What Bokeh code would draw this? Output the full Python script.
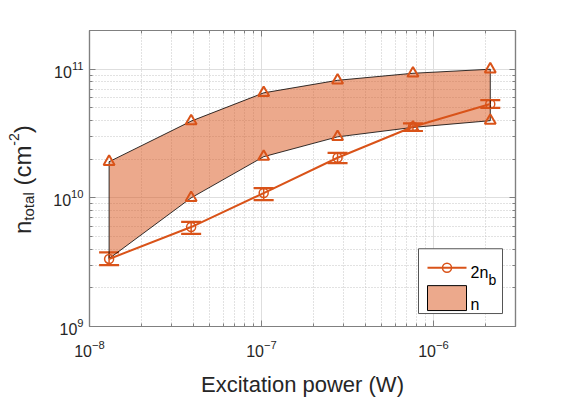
import math
from bokeh.plotting import figure
from bokeh.models import (LogAxis, FixedTicker, Whisker, TeeHead, ColumnDataSource, Range1d, Div)
from bokeh.layouts import row
from bokeh.core.properties import value
from bokeh.embed import file_html
from bokeh.resources import INLINE

# ---- data ----
power = [1.3e-8, 3.9e-8, 1.03e-7, 2.77e-7, 7.6e-7, 2.14e-6]
n_upper = [1.91e10, 3.95e10, 6.55e10, 8.2e10, 9.3e10, 1.0e11]
n_lower = [3.37e9, 1.0e10, 2.09e10, 2.98e10, 3.53e10, 3.98e10]
nb2 = [3.35e9, 5.93e9, 1.09e10, 2.05e10, 3.57e10, 5.36e10]
nb2_hi = [3.77e9, 6.5e9, 1.19e10, 2.24e10, 3.79e10, 5.75e10]
nb2_lo = [3.0e9, 5.24e9, 9.6e9, 1.86e10, 3.31e10, 5.01e10]
x_ticks = [1e-8, 1e-7, 1e-6]
y_ticks = [1e9, 1e10, 1e11]
x_lim = (1e-8, 3e-6)
y_lim = (1e9, 2e11)

ORANGE = "#D95319"
AXC = "#808080"
TXT = "#262626"
FONT = "Liberation Sans"

DIV_W, DIV_ML = 41, 4
FRAME_W, FRAME_H = 426, 297
BL, BR, BT, BB = 44, 54, 30, 72

x_minor = [m * 10.0 ** e for e in (-8, -7, -6) for m in range(2, 10) if m * 10.0 ** e <= x_lim[1]]
y_minor = [m * 10.0 ** e for e in (9, 10, 11) for m in range(2, 10) if m * 10.0 ** e <= y_lim[1]]

p = figure(width=BL + FRAME_W + BR, height=BT + FRAME_H + BB, x_axis_type="log", y_axis_type="log",
           x_range=Range1d(*x_lim), y_range=Range1d(*y_lim),
           output_backend="svg", toolbar_location=None,
           min_border_left=BL, min_border_right=BR, min_border_top=BT, min_border_bottom=BB)
p.background_fill_color = "white"
p.border_fill_color = "white"
p.outline_line_color = AXC
p.outline_line_width = 1.2

xt = FixedTicker(ticks=x_ticks, minor_ticks=x_minor)
yt = FixedTicker(ticks=y_ticks, minor_ticks=y_minor)

def style_axis(ax):
    ax.axis_line_color = AXC
    ax.axis_line_width = 1.2
    ax.major_tick_line_color = AXC
    ax.minor_tick_line_color = AXC
    ax.major_tick_in = 6
    ax.major_tick_out = 0
    ax.minor_tick_in = 3
    ax.minor_tick_out = 0
    ax.major_label_text_font = FONT
    ax.major_label_text_font_size = "16px"
    ax.major_label_text_color = TXT

p.xaxis.ticker = xt
p.yaxis.ticker = yt
style_axis(p.xaxis[0])
style_axis(p.yaxis[0])
p.xaxis.major_label_standoff = 13
p.yaxis.major_label_standoff = 6
p.xaxis.axis_label = "Excitation power (W)"
p.xaxis.axis_label_text_font = FONT
p.xaxis.axis_label_text_font_size = "22px"
p.xaxis.axis_label_text_font_style = "normal"
p.xaxis.axis_label_text_color = TXT
p.xaxis.axis_label_standoff = 12

top_ax = LogAxis(ticker=xt, major_label_overrides={t: "" for t in x_ticks})
right_ax = LogAxis(ticker=yt, major_label_overrides={t: "" for t in y_ticks})
style_axis(top_ax)
style_axis(right_ax)
p.add_layout(top_ax, "above")
p.add_layout(right_ax, "right")

for g, t in ((p.xgrid, xt), (p.ygrid, yt)):
    g.ticker = t
    g.grid_line_color = "#dedede"
    g.grid_line_width = 1
    g.minor_grid_line_color = "#c4c4c4"
    g.minor_grid_line_dash = "1 2"
    g.minor_grid_line_width = 1

# shaded region n
p.patch(x=power + power[::-1], y=n_upper + n_lower[::-1],
        fill_color=ORANGE, fill_alpha=0.5, line_color="black", line_width=0.8)

# 2n_b series with error bars
src = ColumnDataSource(dict(x=power, y=nb2, hi=nb2_hi, lo=nb2_lo))
p.line("x", "y", source=src, line_color=ORANGE, line_width=2)
p.scatter("x", "y", source=src, marker="circle", size=9, fill_color=None,
          line_color=ORANGE, line_width=1.5)
wh = Whisker(source=src, base="x", upper="hi", lower="lo", dimension="height",
             line_color=ORANGE, line_width=1.5,
             upper_head=TeeHead(size=20, line_color=ORANGE, line_width=2.2),
             lower_head=TeeHead(size=20, line_color=ORANGE, line_width=2.2))
p.add_layout(wh)

# bound markers
p.scatter(power, n_upper, marker="triangle", size=11, fill_color=None,
          line_color=ORANGE, line_width=2)
p.scatter(power[1:], n_lower[1:], marker="triangle", size=11, fill_color=None,
          line_color=ORANGE, line_width=2)

# ---- legend box (positions given in pixels from the frame's top-left) ----
lx0, lx1 = math.log10(x_lim[0]), math.log10(x_lim[1])
ly0, ly1 = math.log10(y_lim[0]), math.log10(y_lim[1])
def fx(px):
    return 10 ** (lx0 + px / FRAME_W * (lx1 - lx0))
def fy(py):
    return 10 ** (ly1 - py / FRAME_H * (ly1 - ly0))

p.quad(left=[fx(329)], right=[fx(413)], top=[fy(219)], bottom=[fy(284)],
       fill_color="white", line_color="#555555", line_width=1)
p.line([fx(338), fx(377)], [fy(238), fy(238)], line_color=ORANGE, line_width=2)
p.scatter([fx(357.5)], [fy(238)], marker="circle", size=9, fill_color=None,
          line_color=ORANGE, line_width=1.5)
p.quad(left=[fx(338)], right=[fx(377)], top=[fy(256)], bottom=[fy(281)],
       fill_color=ORANGE, fill_alpha=0.5, line_color="black", line_width=1)
p.text([fx(381)], [fy(243)], text=["2n"], text_font=value(FONT), text_font_size="16px",
       text_color="black", text_baseline="alphabetic")
p.text([fx(399)], [fy(250)], text=["b"], text_font=value(FONT), text_font_size="14px",
       text_color="black", text_baseline="alphabetic")
p.text([fx(381)], [fy(275)], text=["n"], text_font=value(FONT), text_font_size="16px",
       text_color="black", text_baseline="alphabetic")

# ---- y-axis label with sub/superscripts (rotated HTML text) ----
ylabel = Div(text='n<sub style="font-size:15px">total</sub> (cm<sup style="font-size:14px">-2</sup>)',
             width=DIV_W, height=350, margin=(5, 0, 0, DIV_ML),
             styles={"writing-mode": "vertical-rl", "transform": "rotate(180deg)",
                     "text-align": "center", "font-family": FONT, "font-size": "24px",
                     "color": TXT, "white-space": "nowrap"})

open("out.html", "w").write(file_html(row(ylabel, p), INLINE))
